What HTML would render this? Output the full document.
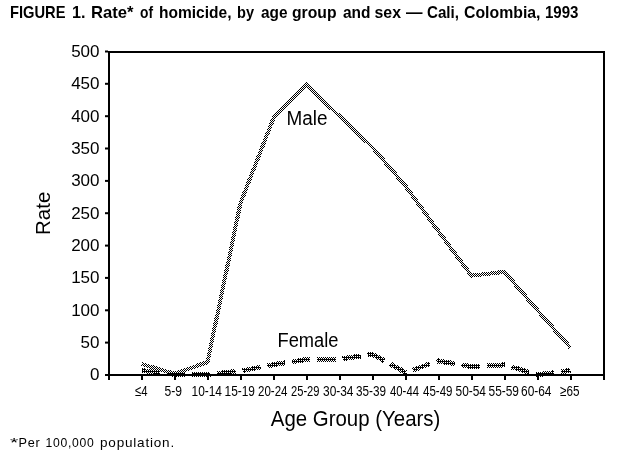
<!DOCTYPE html>
<html><head><meta charset="utf-8"><style>
html,body{margin:0;padding:0;background:#fff;}
body{width:618px;height:456px;overflow:hidden;position:relative;}
svg{position:absolute;left:0;top:0;will-change:transform;}
text{font-family:"Liberation Sans",sans-serif;fill:#000;}
.yl{font-size:17px;}
.xl{font-size:15.3px;}
.fn{font-size:13.5px;letter-spacing:0.8px;}
.t{font-size:17px;font-weight:bold;letter-spacing:0px;}
</style></head><body>
<svg width="618" height="456" viewBox="0 0 618 456">
<defs><pattern id="ck" width="2" height="2" patternUnits="userSpaceOnUse"><rect x="0" y="0" width="1" height="1" fill="#000"/><rect x="1" y="1" width="1" height="1" fill="#000"/></pattern><pattern id="ck2" width="2" height="2" patternUnits="userSpaceOnUse"><rect x="0" y="0" width="1" height="2" fill="#000"/><rect x="1" y="1" width="1" height="1" fill="#000"/></pattern></defs>
<text x="10.0" y="17.8" class="t" textLength="55.5" lengthAdjust="spacingAndGlyphs">FIGURE</text><text x="72.0" y="17.8" class="t" textLength="13.5" lengthAdjust="spacingAndGlyphs">1.</text><text x="91.0" y="17.8" class="t" textLength="42.5" lengthAdjust="spacingAndGlyphs">Rate*</text><text x="140.0" y="17.8" class="t" textLength="13.0" lengthAdjust="spacingAndGlyphs">of</text><text x="159.0" y="17.8" class="t" textLength="72.5" lengthAdjust="spacingAndGlyphs">homicide,</text><text x="237.0" y="17.8" class="t" textLength="17.0" lengthAdjust="spacingAndGlyphs">by</text><text x="261.0" y="17.8" class="t" textLength="26.5" lengthAdjust="spacingAndGlyphs">age</text><text x="292.0" y="17.8" class="t" textLength="44.5" lengthAdjust="spacingAndGlyphs">group</text><text x="343.0" y="17.8" class="t" textLength="27.5" lengthAdjust="spacingAndGlyphs">and</text><text x="374.5" y="17.8" class="t" textLength="26.5" lengthAdjust="spacingAndGlyphs">sex</text><text x="406.0" y="17.8" class="t" textLength="16.5" lengthAdjust="spacingAndGlyphs">&#8212;</text><text x="427.0" y="17.8" class="t" textLength="32.0" lengthAdjust="spacingAndGlyphs">Cali,</text><text x="464.0" y="17.8" class="t" textLength="76.5" lengthAdjust="spacingAndGlyphs">Colombia,</text><text x="545.0" y="17.8" class="t" textLength="33.5" lengthAdjust="spacingAndGlyphs">1993</text>
<rect x="108" y="51" width="497" height="2" fill="#000"/>
<rect x="603" y="51" width="2" height="325" fill="#000"/>
<rect x="108" y="51" width="2" height="329" fill="#000"/>
<rect x="108" y="374" width="497" height="2" fill="#000"/>
<rect x="105" y="374.0" width="3" height="2" fill="#000"/>
<text x="99.5" y="380.3" text-anchor="end" class="yl">0</text>
<rect x="105" y="341.6" width="3" height="2" fill="#000"/>
<text x="99.5" y="347.9" text-anchor="end" class="yl">50</text>
<rect x="105" y="309.3" width="3" height="2" fill="#000"/>
<text x="99.5" y="315.6" text-anchor="end" class="yl">100</text>
<rect x="105" y="276.9" width="3" height="2" fill="#000"/>
<text x="99.5" y="283.2" text-anchor="end" class="yl">150</text>
<rect x="105" y="244.6" width="3" height="2" fill="#000"/>
<text x="99.5" y="250.9" text-anchor="end" class="yl">200</text>
<rect x="105" y="212.2" width="3" height="2" fill="#000"/>
<text x="99.5" y="218.6" text-anchor="end" class="yl">250</text>
<rect x="105" y="179.9" width="3" height="2" fill="#000"/>
<text x="99.5" y="186.2" text-anchor="end" class="yl">300</text>
<rect x="105" y="147.5" width="3" height="2" fill="#000"/>
<text x="99.5" y="153.8" text-anchor="end" class="yl">350</text>
<rect x="105" y="115.2" width="3" height="2" fill="#000"/>
<text x="99.5" y="121.5" text-anchor="end" class="yl">400</text>
<rect x="105" y="82.8" width="3" height="2" fill="#000"/>
<text x="99.5" y="89.1" text-anchor="end" class="yl">450</text>
<rect x="105" y="50.5" width="3" height="2" fill="#000"/>
<text x="99.5" y="56.8" text-anchor="end" class="yl">500</text>
<rect x="108.0" y="374" width="2" height="6" fill="#000"/>
<rect x="141.0" y="374" width="2" height="6" fill="#000"/>
<rect x="174.0" y="374" width="2" height="6" fill="#000"/>
<rect x="207.0" y="374" width="2" height="6" fill="#000"/>
<rect x="240.0" y="374" width="2" height="6" fill="#000"/>
<rect x="273.0" y="374" width="2" height="6" fill="#000"/>
<rect x="306.0" y="374" width="2" height="6" fill="#000"/>
<rect x="339.0" y="374" width="2" height="6" fill="#000"/>
<rect x="372.0" y="374" width="2" height="6" fill="#000"/>
<rect x="405.0" y="374" width="2" height="6" fill="#000"/>
<rect x="438.0" y="374" width="2" height="6" fill="#000"/>
<rect x="471.0" y="374" width="2" height="6" fill="#000"/>
<rect x="504.0" y="374" width="2" height="6" fill="#000"/>
<rect x="537.0" y="374" width="2" height="6" fill="#000"/>
<rect x="570.0" y="374" width="2" height="6" fill="#000"/>
<rect x="603.0" y="374" width="2" height="6" fill="#000"/>
<text x="135.0" y="395.8" class="xl" textLength="12.5" lengthAdjust="spacingAndGlyphs">&#8804;4</text>
<text x="164.5" y="395.8" class="xl" textLength="17.5" lengthAdjust="spacingAndGlyphs">5-9</text>
<text x="191.5" y="395.8" class="xl" textLength="30.5" lengthAdjust="spacingAndGlyphs">10-14</text>
<text x="224.5" y="395.8" class="xl" textLength="30.5" lengthAdjust="spacingAndGlyphs">15-19</text>
<text x="258.0" y="395.8" class="xl" textLength="29.5" lengthAdjust="spacingAndGlyphs">20-24</text>
<text x="291.0" y="395.8" class="xl" textLength="28.5" lengthAdjust="spacingAndGlyphs">25-29</text>
<text x="323.0" y="395.8" class="xl" textLength="30.5" lengthAdjust="spacingAndGlyphs">30-34</text>
<text x="356.0" y="395.8" class="xl" textLength="30.0" lengthAdjust="spacingAndGlyphs">35-39</text>
<text x="390.0" y="395.8" class="xl" textLength="29.0" lengthAdjust="spacingAndGlyphs">40-44</text>
<text x="423.0" y="395.8" class="xl" textLength="29.5" lengthAdjust="spacingAndGlyphs">45-49</text>
<text x="455.5" y="395.8" class="xl" textLength="30.5" lengthAdjust="spacingAndGlyphs">50-54</text>
<text x="488.5" y="395.8" class="xl" textLength="30.5" lengthAdjust="spacingAndGlyphs">55-59</text>
<text x="521.0" y="395.8" class="xl" textLength="30.5" lengthAdjust="spacingAndGlyphs">60-64</text>
<text x="560.0" y="395.8" class="xl" textLength="19.5" lengthAdjust="spacingAndGlyphs">&#8805;65</text>
<polyline points="141.5,364.0 174.5,373.7 207.5,362.1 240.5,202.9 273.5,118.1 306.5,85.1 339.5,116.2 372.5,147.3 405.5,186.1 438.5,231.4 471.5,275.7 504.5,271.8 537.5,310.3 570.5,347.8" fill="none" stroke="url(#ck)" stroke-width="4" stroke-linejoin="miter" shape-rendering="crispEdges"/>
<g id="fem"><polyline points="141.5,370.5 174.5,374.4 207.5,374.4 240.5,371.1 273.5,364.6 306.5,359.5 339.5,359.1 372.5,354.3 405.5,372.4 438.5,361.0 471.5,366.6 504.5,364.9 537.5,374.7 570.5,370.5" fill="none" stroke="url(#ck)" stroke-width="5" stroke-dasharray="18.3 6.95" stroke-dashoffset="24.75" shape-rendering="crispEdges"/><polyline points="141.5,370.5 174.5,374.4 207.5,374.4 240.5,371.1 273.5,364.6 306.5,359.5 339.5,359.1 372.5,354.3 405.5,372.4 438.5,361.0 471.5,366.6 504.5,364.9 537.5,374.7 570.5,370.5" fill="none" stroke="url(#ck2)" stroke-width="3" stroke-dasharray="18.3 6.95" stroke-dashoffset="24.75" shape-rendering="crispEdges"/></g>
<text x="286.5" y="125" style="font-size:20px" textLength="41" lengthAdjust="spacingAndGlyphs">Male</text>
<text x="277.5" y="347.3" style="font-size:20px" textLength="61" lengthAdjust="spacingAndGlyphs">Female</text>
<text transform="translate(49.8,235) rotate(-90)" style="font-size:20.5px">Rate</text>
<text x="270.8" y="426" style="font-size:21.3px" textLength="169.5" lengthAdjust="spacingAndGlyphs">Age Group (Years)</text>
<text x="10.0" y="447" class="fn" textLength="9.5" lengthAdjust="spacingAndGlyphs">*</text><text x="18.5" y="447" class="fn" textLength="22.0" lengthAdjust="spacingAndGlyphs">Per</text><text x="45.5" y="447" class="fn" textLength="49.0" lengthAdjust="spacingAndGlyphs">100,000</text><text x="100.0" y="447" class="fn" textLength="75.0" lengthAdjust="spacingAndGlyphs">population.</text>
</svg>
</body></html>
